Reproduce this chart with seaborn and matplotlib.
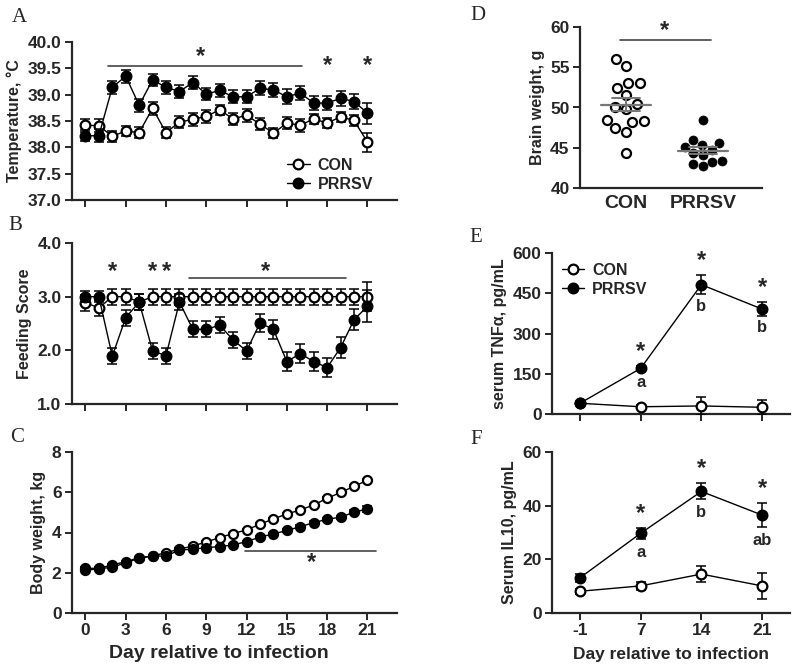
import numpy as np
import seaborn as sns
import matplotlib
matplotlib.use("Agg")
import matplotlib.pyplot as plt

# ---- data ----
days = list(range(22))

temp_con = [38.42, 38.41, 38.21, 38.31, 38.28, 38.74, 38.28, 38.48, 38.53, 38.59, 38.71,
            38.54, 38.61, 38.44, 38.27, 38.46, 38.42, 38.54, 38.46, 38.58, 38.51, 38.10]
temp_con_sem = [0.12, 0.12, 0.1, 0.1, 0.1, 0.12, 0.1, 0.12, 0.12, 0.12, 0.1,
                0.12, 0.12, 0.12, 0.1, 0.12, 0.12, 0.1, 0.1, 0.1, 0.1, 0.18]
temp_prrsv = [38.22, 38.22, 39.14, 39.35, 38.80, 39.28, 39.14, 39.06, 39.23, 39.01, 39.08,
              38.96, 38.96, 39.12, 39.09, 38.96, 39.03, 38.84, 38.84, 38.93, 38.87, 38.65]
temp_prrsv_sem = [0.1, 0.12, 0.12, 0.12, 0.12, 0.12, 0.12, 0.12, 0.12, 0.12, 0.12,
                  0.12, 0.12, 0.13, 0.13, 0.14, 0.13, 0.14, 0.14, 0.14, 0.14, 0.2]

feed_con = [2.89, 2.79, 3.0, 3.0, 2.9, 3.0, 3.0, 3.0, 3.0, 3.0, 3.0,
            3.0, 3.0, 3.0, 3.0, 3.0, 3.0, 3.0, 3.0, 3.0, 3.0, 3.0]
feed_con_sem = [0.15, 0.15, 0.15, 0.15, 0.15, 0.15, 0.15, 0.15, 0.15, 0.15, 0.15,
                0.15, 0.15, 0.15, 0.15, 0.15, 0.15, 0.15, 0.15, 0.15, 0.15, 0.27]
feed_prrsv = [3.0, 3.0, 1.89, 2.61, 2.9, 1.99, 1.9, 2.9, 2.39, 2.39, 2.47,
              2.19, 1.99, 2.51, 2.39, 1.79, 1.94, 1.79, 1.68, 2.05, 2.57, 2.82]
feed_prrsv_sem = [0.1, 0.1, 0.15, 0.15, 0.15, 0.15, 0.15, 0.15, 0.15, 0.15, 0.15,
                  0.15, 0.15, 0.17, 0.17, 0.17, 0.18, 0.18, 0.18, 0.19, 0.2, 0.3]

bw_con = [2.12, 2.2, 2.27, 2.5, 2.72, 2.83, 3.0, 3.17, 3.33, 3.53, 3.75,
          3.95, 4.13, 4.41, 4.68, 4.92, 5.12, 5.37, 5.7, 5.99, 6.29, 6.6]
bw_con_sem = [0.05, 0.05, 0.05, 0.05, 0.05, 0.05, 0.05, 0.05, 0.05, 0.05, 0.05,
              0.05, 0.05, 0.05, 0.05, 0.05, 0.05, 0.05, 0.05, 0.06, 0.06, 0.07]
bw_prrsv = [2.22, 2.22, 2.39, 2.55, 2.75, 2.83, 2.83, 3.13, 3.17, 3.25, 3.3,
            3.38, 3.55, 3.77, 3.93, 4.1, 4.29, 4.49, 4.66, 4.76, 5.01, 5.17]
bw_prrsv_sem = [0.05, 0.05, 0.05, 0.05, 0.05, 0.05, 0.05, 0.05, 0.05, 0.05, 0.05,
                0.05, 0.05, 0.05, 0.06, 0.06, 0.06, 0.07, 0.08, 0.08, 0.1, 0.15]

brain_con = [56.0, 55.2, 53.0, 53.0, 52.4, 51.5, 50.4, 50.1, 49.8, 48.4, 48.3, 48.2,
             47.4, 47.0, 44.3]
brain_prrsv = [48.4, 46.0, 45.6, 45.3, 45.1, 44.7, 44.3, 44.1, 43.3, 43.2, 43.0, 42.7]

cyt_days = ["-1", "7", "14", "21"]
tnf_con = [40, 27, 30, 25]
tnf_con_sem = [5, 5, 35, 28]
tnf_prrsv = [40, 170, 482, 391]
tnf_prrsv_sem = [5, 8, 35, 25]

il10_con = [8.1, 10.1, 14.5, 10.1]
il10_con_sem = [1.0, 1.5, 3.0, 4.7]
il10_prrsv = [13.1, 29.7, 45.3, 36.5]
il10_prrsv_sem = [1.5, 2.0, 3.0, 4.5]

tnf_letters = ["", "a", "b", "b"]
il10_letters = ["", "a", "b", "ab"]

# ---- style ----
sns.set_style("ticks")
plt.rcParams["font.family"] = ["Liberation Sans", "DejaVu Sans"]
plt.rcParams["font.weight"] = "bold"
plt.rcParams["axes.labelweight"] = "bold"

fig = plt.figure(figsize=(8, 6.71), dpi=100)
W, H = 800, 671


def axes_px(left, right, top, bottom):
    return fig.add_axes([left / W, 1 - bottom / H, (right - left) / W, (bottom - top) / H])


def style(ax):
    sns.despine(ax=ax)
    for s in ("left", "bottom"):
        ax.spines[s].set_linewidth(1.6)
    ax.tick_params(direction="out", length=5, width=1.4, labelsize=12.5, pad=2.5)
    for lab in ax.get_xticklabels() + ax.get_yticklabels():
        lab.set_fontweight("bold")


def series(ax, x, y, err, filled, label, ms=7):
    fc = "black" if filled else "white"
    z = 4 if filled else 3
    ax.errorbar(x, y, yerr=err, fmt="none", ecolor="black", elinewidth=1.1,
                capsize=3.5, capthick=1.1, zorder=z)
    sns.lineplot(x=x, y=y, ax=ax, color="black", lw=1.0, marker="o", markersize=ms,
                 markerfacecolor=fc, markeredgecolor="black", markeredgewidth=1.6,
                 errorbar=None, label=label, zorder=z, legend=False)


def star(ax, x, y):
    ax.text(x, y, "*", ha="center", va="center", fontsize=17, fontweight="bold")


def sigline(ax, x0, x1, y):
    ax.plot([x0, x1], [y, y], color="#444444", lw=1.2)


def legend(ax, **kw):
    h, l = ax.get_legend_handles_labels()
    ax.legend(h, l, frameon=False, handlelength=1.4, handletextpad=0.5,
              labelspacing=0.25, prop={"weight": "bold", "size": 11.5}, **kw)


# ---- A: temperature ----
axA = axes_px(72, 397, 42, 200)
series(axA, days, temp_con, temp_con_sem, False, "CON")
series(axA, days, temp_prrsv, temp_prrsv_sem, True, "PRRSV")
axA.set_xlim(-1, 23.2)
axA.set_ylim(37.0, 40.0)
axA.set_yticks(np.arange(37.0, 40.01, 0.5))
axA.set_yticklabels([f"{v:.1f}" for v in np.arange(37.0, 40.01, 0.5)])
axA.set_xticks(range(0, 22, 3))
axA.set_xticklabels([])
axA.set_ylabel("Temperature, \u00b0C", fontsize=11.5, fontweight="bold")
sigline(axA, 1.7, 16.1, 39.55)
star(axA, 8.6, 39.72)
star(axA, 18, 39.55)
star(axA, 21, 39.55)
legend(axA, loc="lower right", bbox_to_anchor=(0.97, -0.04))
style(axA)

# ---- B: feeding score ----
axB = axes_px(72, 397, 243, 404)
series(axB, days, feed_con, feed_con_sem, False, "CON")
series(axB, days, feed_prrsv, feed_prrsv_sem, True, "PRRSV")
axB.set_xlim(-1, 23.2)
axB.set_ylim(1.0, 4.0)
axB.set_yticks([1.0, 2.0, 3.0, 4.0])
axB.set_yticklabels(["1.0", "2.0", "3.0", "4.0"])
axB.set_xticks(range(0, 22, 3))
axB.set_xticklabels([])
axB.set_ylabel("Feeding Score", fontsize=11.5, fontweight="bold")
sigline(axB, 7.7, 19.4, 3.35)
star(axB, 2, 3.47)
star(axB, 5, 3.47)
star(axB, 6, 3.47)
star(axB, 13.4, 3.47)
style(axB)

# ---- C: body weight ----
axC = axes_px(72, 397, 452, 613)
series(axC, days, bw_con, bw_con_sem, False, "CON", ms=6.5)
series(axC, days, bw_prrsv, bw_prrsv_sem, True, "PRRSV", ms=6.5)
axC.set_xlim(-1, 23.2)
axC.set_ylim(0, 8)
axC.set_yticks([0, 2, 4, 6, 8])
axC.set_xticks(range(0, 22, 3))
axC.set_ylabel("Body weight, kg", fontsize=11.5, fontweight="bold")
axC.set_xlabel("Day relative to infection", fontsize=14, fontweight="bold")
axC.xaxis.set_label_coords(0.452, -0.2)
sigline(axC, 11.9, 21.6, 3.08)
star(axC, 16.8, 2.5)
style(axC)

# ---- D: brain weight ----
axD = axes_px(580, 762, 27, 188)
sns.swarmplot(x=["CON"] * len(brain_con), y=brain_con, order=["CON", "PRRSV"], ax=axD,
              color="white", edgecolor="black", linewidth=1.6, size=6.5)
sns.swarmplot(x=["PRRSV"] * len(brain_prrsv), y=brain_prrsv, order=["CON", "PRRSV"], ax=axD,
              color="black", edgecolor="black", linewidth=0.5, size=6.5)
for i, vals in enumerate([brain_con, brain_prrsv]):
    m = np.mean(vals)
    se = np.std(vals, ddof=1) / np.sqrt(len(vals))
    axD.plot([i - 0.33, i + 0.33], [m, m], color="#777777", lw=1.6, zorder=5)
    axD.plot([i - 0.18, i + 0.18], [m + se, m + se], color="#777777", lw=1.4, zorder=5)
    axD.plot([i - 0.18, i + 0.18], [m - se, m - se], color="#777777", lw=1.4, zorder=5)
    axD.plot([i, i], [m - se, m + se], color="#777777", lw=1.4, zorder=5)
axD.set_xlim(-0.6, 1.77)
axD.set_ylim(40, 60)
axD.set_yticks([40, 45, 50, 55, 60])
axD.set_ylabel("Brain weight, g", fontsize=11.5, fontweight="bold")
sigline(axD, -0.08, 1.1, 58.4)
star(axD, 0.5, 59.6)
style(axD)
axD.tick_params(axis="x", length=0, labelsize=14, pad=5)

# ---- E: TNF-alpha ----
pos = np.arange(len(cyt_days))
axE = axes_px(552, 790, 253, 414)
series(axE, pos, tnf_con, tnf_con_sem, False, "CON")
series(axE, pos, tnf_prrsv, tnf_prrsv_sem, True, "PRRSV")
axE.set_xlim(-0.46, 3.46)
axE.set_ylim(0, 600)
axE.set_yticks([0, 150, 300, 450, 600])
axE.set_xticks(pos)
axE.set_xticklabels([])
axE.set_ylabel("serum TNF\u03b1, pg/mL", fontsize=11.5, fontweight="bold")
for i in range(1, 4):
    star(axE, pos[i], tnf_prrsv[i] + tnf_prrsv_sem[i] + 55)
    axE.text(pos[i], tnf_prrsv[i] - tnf_prrsv_sem[i] - 45, tnf_letters[i], ha="center",
             va="center", fontsize=12, fontweight="bold")
legend(axE, loc="upper left", bbox_to_anchor=(-0.02, 1.03))
style(axE)

# ---- F: IL10 ----
axF = axes_px(552, 790, 452, 613)
series(axF, pos, il10_con, il10_con_sem, False, "CON")
series(axF, pos, il10_prrsv, il10_prrsv_sem, True, "PRRSV")
axF.set_xlim(-0.46, 3.46)
axF.set_ylim(0, 60)
axF.set_yticks([0, 20, 40, 60])
axF.set_xticks(pos)
axF.set_xticklabels(cyt_days)
axF.set_ylabel("Serum IL10, pg/mL", fontsize=11.5, fontweight="bold")
axF.set_xlabel("Day relative to infection", fontsize=12.5, fontweight="bold", labelpad=6)
for i in range(1, 4):
    star(axF, pos[i], il10_prrsv[i] + il10_prrsv_sem[i] + 5.5)
    axF.text(pos[i], il10_prrsv[i] - il10_prrsv_sem[i] - 5, il10_letters[i], ha="center",
             va="center", fontsize=12, fontweight="bold")
style(axF)

# ---- panel letters ----
for lab, x, y in [("A", 19, 17), ("B", 15, 225), ("C", 17, 437),
                  ("D", 478, 15), ("E", 476, 237), ("F", 476, 440)]:
    fig.text(x / W, 1 - y / H, lab, ha="center", va="center", fontsize=15,
             family="Liberation Serif", fontweight="normal")

fig.savefig("out.png", dpi=100)
